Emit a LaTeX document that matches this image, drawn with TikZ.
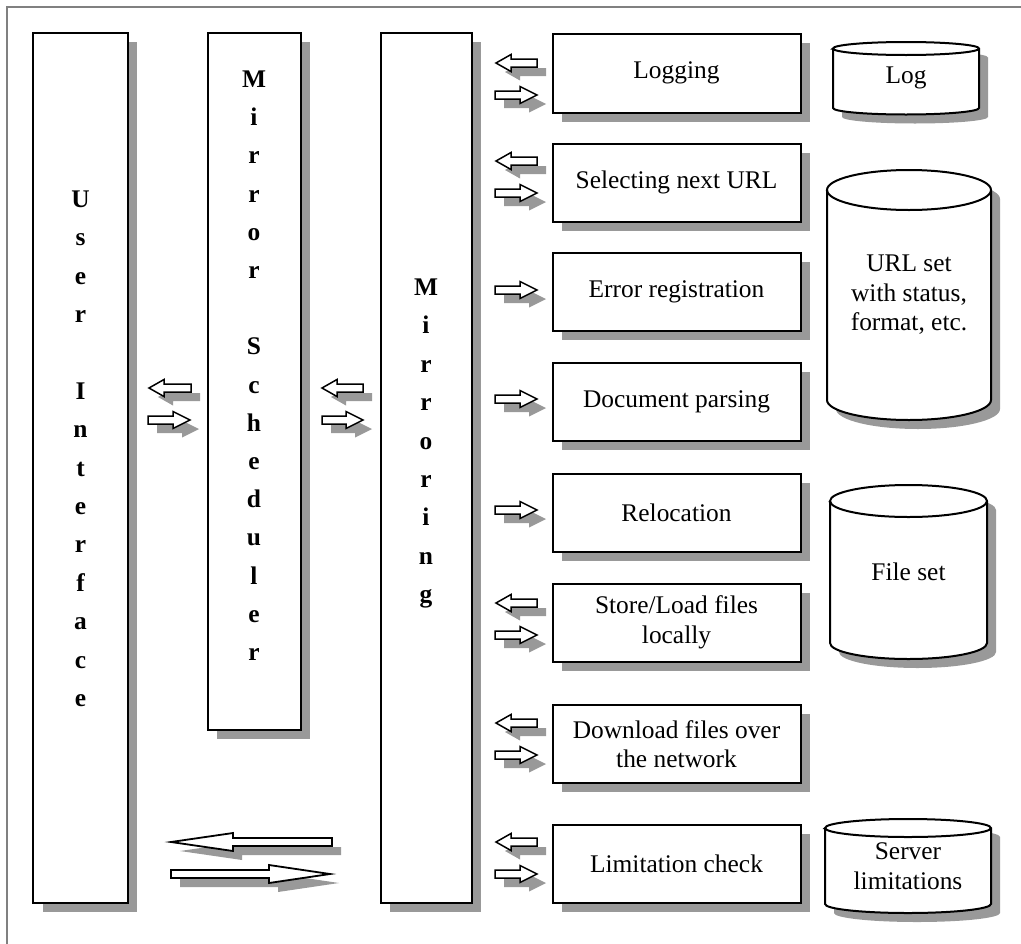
\documentclass[tikz,border=0pt]{standalone}
\usepackage{fontspec}
\setmainfont{Liberation Serif}
\usetikzlibrary{shadows}
\definecolor{shadowgray}{HTML}{999999}
\definecolor{framegray}{HTML}{808080}
\tikzset{
  every node/.style={inner sep=0pt, outer sep=0pt},
  dropsh/.style={drop shadow={shadow xshift=9bp, shadow yshift=-9bp, fill=shadowgray, opacity=1}},
  boxtxt/.style={font=\fontsize{25.4bp}{29.5bp}\selectfont, align=center},
  procbox/.style={draw, line width=2bp, fill=white, minimum width=248bp, minimum height=78bp, boxtxt, dropsh},
  colbox/.style={draw, line width=2bp, fill=white, dropsh},
  vlet/.style={font=\fontsize{25.4bp}{30bp}\selectfont\bfseries, anchor=base},
  arrline/.style={draw, line width=1.5bp, fill=white, line join=miter},
  bigarr/.style={draw, line width=1.8bp, fill=white, line join=miter},
  pics/leftarr/.style n args={4}{code={%
    \path[fill=shadowgray, shift={(9,9)}] (0,0) -- (#2,-#4) -- (#2,-#3) -- (#1,-#3) -- (#1,#3) -- (#2,#3) -- (#2,#4) -- cycle;
    \path[arrline] (0,0) -- (#2,-#4) -- (#2,-#3) -- (#1,-#3) -- (#1,#3) -- (#2,#3) -- (#2,#4) -- cycle;
  }},
  pics/rightarr/.style n args={4}{code={%
    \path[fill=shadowgray, shift={(9,9)}] (0,-#3) -- ({#1-#2},-#3) -- ({#1-#2},-#4) -- (#1,0) -- ({#1-#2},#4) -- ({#1-#2},#3) -- (0,#3) -- cycle;
    \path[arrline] (0,-#3) -- ({#1-#2},-#3) -- ({#1-#2},-#4) -- (#1,0) -- ({#1-#2},#4) -- ({#1-#2},#3) -- (0,#3) -- cycle;
  }},
}
\newcommand\dbcyl[8]{%
  \fill[shadowgray, shift={(9,9)}] (#2,#4) -- (#2,#5) arc[start angle=180, end angle=360, x radius=#6bp, y radius=#7bp] -- (#3,#4) arc[start angle=0, end angle=180, x radius=#6bp, y radius=#7bp] -- cycle;
  \draw[line width=2bp, fill=white] (#2,#4) -- (#2,#5) arc[start angle=180, end angle=360, x radius=#6bp, y radius=#7bp] -- (#3,#4) arc[start angle=0, end angle=180, x radius=#6bp, y radius=#7bp] -- cycle;
  \draw[line width=2bp] (#2,#4) arc[start angle=180, end angle=360, x radius=#6bp, y radius=#7bp];
  \node[boxtxt] (#1) at ({(#2+#3)/2},{(#4+#5)/2}) {#8};
}
\begin{document}
\begin{tikzpicture}[x=1bp, y=-1bp]
\useasboundingbox (0,0) rectangle (1021,944);
% frame
\draw[framegray, line width=1.5bp] (7,944) -- (7,7) -- (1021,7);

% columns
\node[colbox, minimum width=94bp, minimum height=869bp] (ui) at (80.5,468) {};
\node[colbox, minimum width=93bp, minimum height=696bp] (sched) at (254,381.5) {};
\node[colbox, minimum width=91bp, minimum height=869bp] (mirr) at (426,468) {};

\foreach \l/\i in {U/0,s/1,e/2,r/3,I/5,n/6,t/7,e/8,r/9,f/10,a/11,c/12,e/13}
  \node[vlet] (ui\i) at (80.5,{207.5+\i*38.38}) {\l};
\foreach \l/\i in {M/0,i/1,r/2,r/3,o/4,r/5,S/7,c/8,h/9,e/10,d/11,u/12,l/13,e/14,r/15}
  \node[vlet] (sc\i) at (254,{87.5+\i*38.2}) {\l};
\foreach \l/\i in {M/0,i/1,r/2,r/3,o/4,r/5,i/6,n/7,g/8}
  \node[vlet] (mi\i) at (426,{295.5+\i*38.4}) {\l};

% process boxes
\node[procbox, minimum height=79bp] (log) at (676.5,73) {Logging};
\node[procbox] (sel) at (676.5,182.5) {Selecting next URL};
\node[procbox] (err) at (676.5,291.5) {Error registration};
\node[procbox] (doc) at (676.5,402) {Document parsing};
\node[procbox] (rel) at (676.5,513) {Relocation};
\node[procbox] (sto) at (676.5,622.5) {Store/Load files\\locally};
\node[procbox] (dwn) at (676.5,744) {Download files over\\the network};
\node[procbox] (lim) at (676.5,864) {Limitation check};

% small arrows next to process boxes
\pic (l1) at (496,63) {leftarr={41}{15}{4}{8.5}};
\pic (r1) at (495,95) {rightarr={42}{17}{4}{8.5}};
\pic (l2) at (496,161) {leftarr={41}{15}{4}{8.5}};
\pic (r2) at (495,193) {rightarr={42}{17}{4}{8.5}};
\pic (r3) at (495,290) {rightarr={42}{17}{4}{8.5}};
\pic (r4) at (495,399) {rightarr={42}{17}{4}{8.5}};
\pic (r5) at (495,510) {rightarr={42}{17}{4}{8.5}};
\pic (l6) at (496,603) {leftarr={41}{15}{4}{8.5}};
\pic (r6) at (495,635) {rightarr={42}{17}{4}{8.5}};
\pic (l7) at (496,723) {leftarr={41}{15}{4}{8.5}};
\pic (r7) at (495,755) {rightarr={42}{17}{4}{8.5}};
\pic (l8) at (496,842) {leftarr={41}{15}{4}{8.5}};
\pic (r8) at (495,874) {rightarr={42}{17}{4}{8.5}};

% arrows between columns
\pic (lu) at (149,388) {leftarr={42}{15}{4}{8.5}};
\pic (ru) at (148,420) {rightarr={42}{17}{4}{8.5}};
\pic (lm) at (322,388) {leftarr={41}{15}{4}{8.5}};
\pic (rm) at (322,420) {rightarr={41}{17}{4}{8.5}};

% big arrows
\fill[shadowgray, shift={(9,9)}] (171,842) -- (233,833) -- (233,838) -- (332,838) -- (332,846) -- (233,846) -- (233,851) -- cycle;
\path[bigarr] (171,842) -- (233,833) -- (233,838) -- (332,838) -- (332,846) -- (233,846) -- (233,851) -- cycle;
\fill[shadowgray, shift={(9,9)}] (171,870) -- (269,870) -- (269,865) -- (330,874) -- (269,883) -- (269,878) -- (171,878) -- cycle;
\path[bigarr] (171,870) -- (269,870) -- (269,865) -- (330,874) -- (269,883) -- (269,878) -- (171,878) -- cycle;

% data stores
\dbcyl{logdb}{833}{979}{48.5}{108}{73}{6.5}{Log}
\dbcyl{urldb}{827}{991}{190}{400}{82}{20}{URL set\\with status,\\format, etc.}
\dbcyl{filedb}{830}{987}{501}{643}{78.5}{16}{File set}
\dbcyl{srvdb}{825}{991}{828}{904}{83}{9}{Server\\limitations}
\end{tikzpicture}
\end{document}
